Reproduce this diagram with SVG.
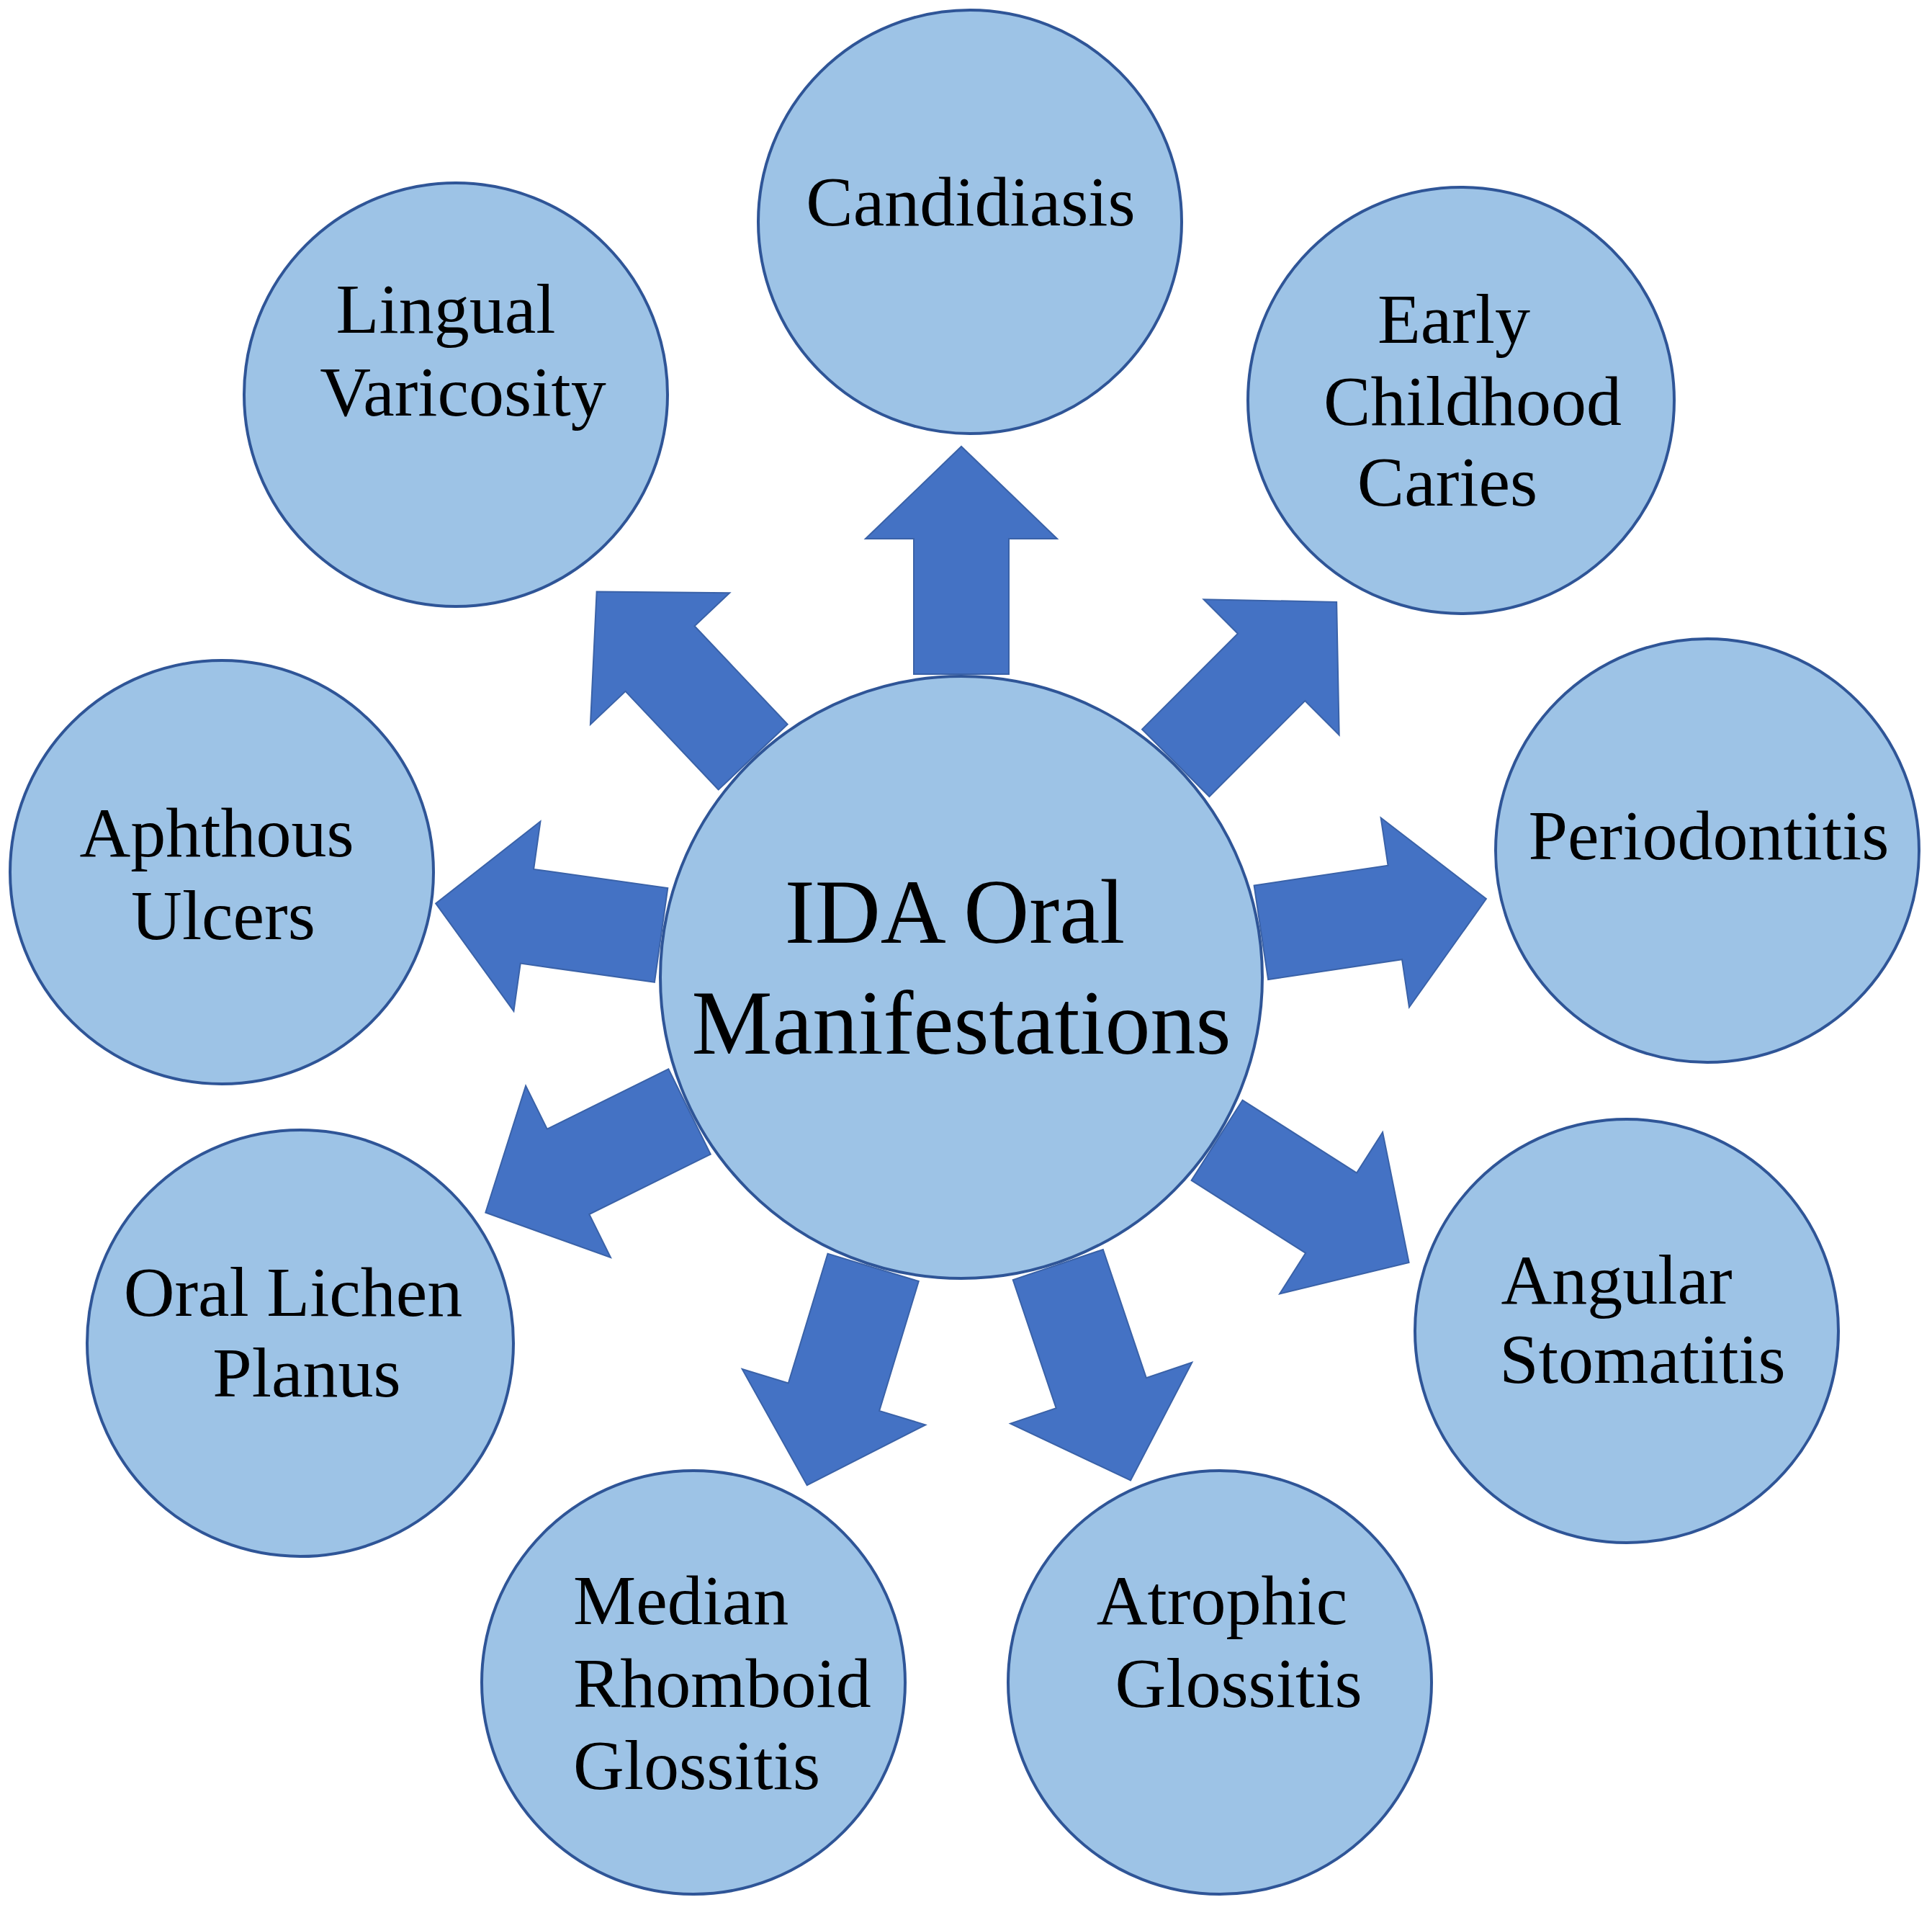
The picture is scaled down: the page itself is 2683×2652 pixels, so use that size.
<svg xmlns="http://www.w3.org/2000/svg" width="2683" height="2652" viewBox="0 0 2683 2652">
<style>
.c{fill:#9dc3e6;stroke:#2f5597;stroke-width:4}
.a{fill:#4472c4;stroke:#3a62a8;stroke-width:2}
.t{font-family:"Liberation Serif",serif;font-size:98px;fill:#000;text-anchor:middle}
.m{font-size:126px}
</style>
<defs>
<polygon id="arr" points="-66,-421 -66,-609 -133,-609 0,-737 133,-609 66,-609 66,-421"/>
</defs>
<rect width="2683" height="2652" fill="#fff"/>
<g id="connectors" class="a" transform="translate(1335,1357)">
<use href="#arr" transform="rotate(0)"/>
<use href="#arr" transform="rotate(45)"/>
<use href="#arr" transform="rotate(81.5)"/>
<use href="#arr" transform="rotate(122.5)"/>
<use href="#arr" transform="rotate(161.4)"/>
<use href="#arr" transform="rotate(196.9)"/>
<use href="#arr" transform="rotate(243.7)"/>
<use href="#arr" transform="rotate(278)"/>
<use href="#arr" transform="rotate(316.6)"/>
</g>
<g id="center"><circle class="c" cx="1335" cy="1357" r="418"/><text class="t m" x="1326" y="1309">IDA Oral</text><text class="t m" x="1335" y="1463">Manifestations</text></g>
<g id="candidiasis"><circle class="c" cx="1347" cy="308" r="294"/><text class="t" x="1348" y="313">Candidiasis</text></g>
<g id="ecc"><circle class="c" cx="2029" cy="556" r="296"/><text class="t" x="2019" y="476">Early</text><text class="t" x="2045" y="590">Childhood</text><text class="t" x="2010" y="702">Caries</text></g>
<g id="periodontitis"><circle class="c" cx="2371" cy="1181" r="294"/><text class="t" x="2373" y="1193">Periodontitis</text></g>
<g id="angular"><circle class="c" cx="2259" cy="1848" r="294"/><text class="t" x="2245" y="1810">Angular</text><text class="t" x="2281" y="1920">Stomatitis</text></g>
<g id="atrophic"><circle class="c" cx="1694" cy="2336" r="294"/><text class="t" x="1697" y="2255">Atrophic</text><text class="t" x="1720" y="2370">Glossitis</text></g>
<g id="median"><circle class="c" cx="963" cy="2336" r="294"/><text class="t" x="796" y="2255" text-anchor="start" style="text-anchor:start">Median</text><text class="t" x="796" y="2370" style="text-anchor:start">Rhomboid</text><text class="t" x="796" y="2484" style="text-anchor:start">Glossitis</text></g>
<g id="lichen"><circle class="c" cx="417" cy="1865" r="296"/><text class="t" x="407" y="1827">Oral Lichen</text><text class="t" x="426" y="1939">Planus</text></g>
<g id="aphthous"><circle class="c" cx="308" cy="1211" r="294"/><text class="t" x="301" y="1189">Aphthous</text><text class="t" x="310" y="1304">Ulcers</text></g>
<g id="lingual"><circle class="c" cx="633" cy="548" r="294"/><text class="t" x="619" y="462">Lingual</text><text class="t" x="643" y="577">Varicosity</text></g>
</svg>
